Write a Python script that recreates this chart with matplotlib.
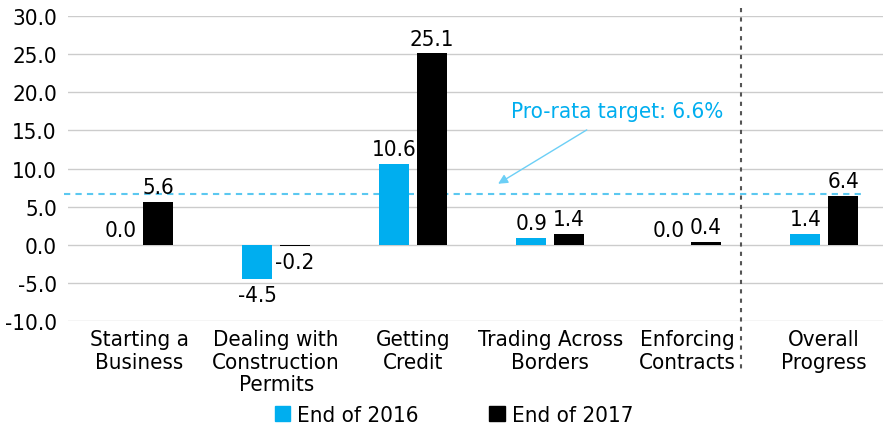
import numpy as np
import matplotlib
matplotlib.use('Agg')
import matplotlib.pyplot as plt
from matplotlib.patches import Patch

categories = ['Starting a\nBusiness', 'Dealing with\nConstruction\nPermits', 'Getting\nCredit',
              'Trading Across\nBorders', 'Enforcing\nContracts', 'Overall\nProgress']
end_2016 = [0.0, -4.5, 10.6, 0.9, 0.0, 1.4]
end_2017 = [5.6, -0.2, 25.1, 1.4, 0.4, 6.4]
target = 6.6

cyan = '#00AEEF'
plt.rcParams['font.family'] = ['DejaVu Sans']
plt.rcParams['font.stretch'] = 'condensed'

fig = plt.figure(figsize=(8.83, 4.27), dpi=100)
ax = fig.add_axes([0.077, 0.246, 0.923, 0.714])

x = np.arange(len(categories))
w = 0.218
off = 0.138
ax.bar(x - off, end_2016, w, color=cyan, zorder=3)
ax.bar(x + off, end_2017, w, color='black', zorder=3)

for xs, vals in ((x - off, end_2016), (x + off, end_2017)):
    for xi, v in zip(xs, vals):
        if v < 0:
            ax.text(xi, v - 0.8, f'{v:.1f}', ha='center', va='top', fontsize=16)
        else:
            ax.text(xi, v + 0.6, f'{v:.1f}', ha='center', va='bottom', fontsize=16)

ax.set_ylim(-10, 30)
ax.set_xlim(-0.52, 5.43)
ax.set_yticks(np.arange(-10, 31, 5))
ax.yaxis.set_major_formatter(matplotlib.ticker.FormatStrFormatter('%.1f'))
ax.grid(axis='y', color='#cccccc', lw=1, zorder=0)
ax.set_xticks(x)
ax.set_xticklabels(categories, fontsize=16, linespacing=1.15, va='top')
ax.tick_params(length=0, labelsize=16)
ax.tick_params(axis='x', pad=6)
ax.tick_params(axis='y', pad=8)
for s in ax.spines.values():
    s.set_visible(False)

# pro-rata target line
ax.plot([-0.55, 5.27], [target, target], ls=(0, (3, 2.5)), color='#5bc8f0', lw=1.5,
        clip_on=False, zorder=2)
ax.annotate('Pro-rata target: 6.6%', xy=(2.62, 8.0), xytext=(3.49, 17.5),
            ha='center', va='center', color=cyan, fontsize=16,
            arrowprops=dict(arrowstyle='-|>', color='#6ccff6', lw=1, shrinkA=8, shrinkB=0,
                            mutation_scale=14))

# separator before overall progress
ax.plot([4.39, 4.39], [31, -16.6], ls=(0, (2, 2.5)), color='#555555', lw=1.5,
        clip_on=False, zorder=2)

handles = [Patch(color=cyan, label='End of 2016'), Patch(color='black', label='End of 2017')]
fig.legend(handles=handles, loc='lower center', bbox_to_anchor=(0.514, -0.045), ncol=2,
           frameon=False, fontsize=16, handlelength=0.7, handleheight=0.7,
           handletextpad=0.3, columnspacing=3.2)

fig.savefig('out.png', dpi=100)
